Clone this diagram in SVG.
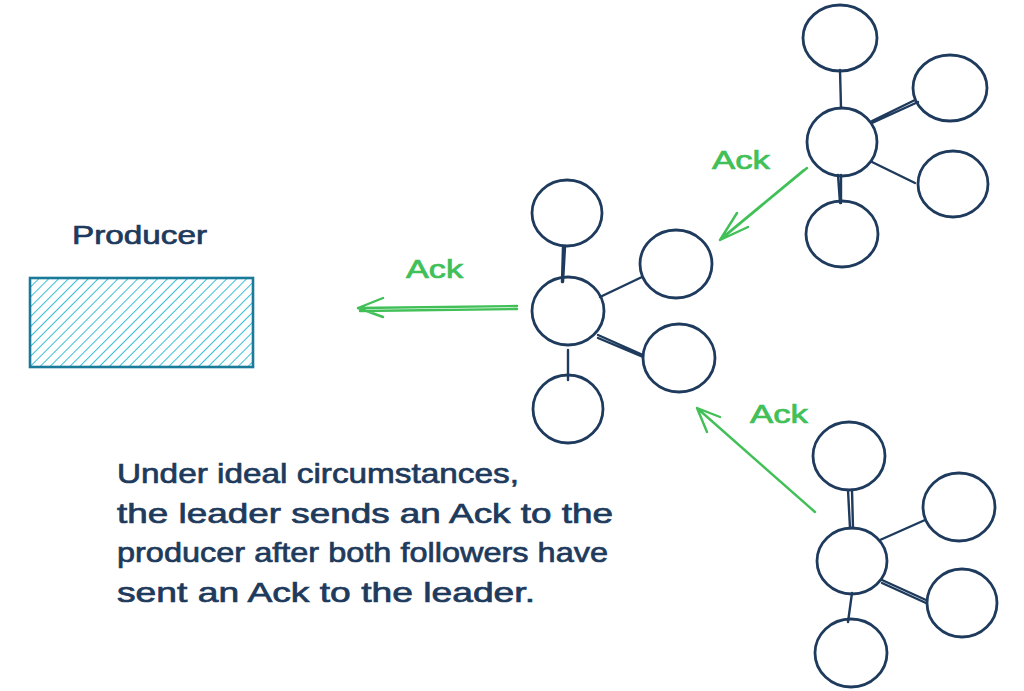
<svg xmlns="http://www.w3.org/2000/svg" width="1024" height="691" viewBox="0 0 1024 691">
<defs>
<pattern id="hatch" patternUnits="userSpaceOnUse" width="7" height="7" patternTransform="rotate(45)">
<line x1="0" y1="0" x2="0" y2="7" stroke="#22b8cf" stroke-width="1.8"/>
</pattern>
</defs>
<style>
.n{fill:none;stroke:#1e3a5c;stroke-width:2.8}
.e{fill:none;stroke:#1e3a5c;stroke-width:2.4;stroke-linecap:round}
.a{fill:none;stroke:#40c057;stroke-width:2.4;stroke-linecap:round;stroke-linejoin:round}
.t{font-family:"Liberation Sans",Arial,sans-serif;fill:#1e3a5c;stroke:#1e3a5c;stroke-width:0.7}
.g{font-family:"Liberation Sans",Arial,sans-serif;fill:#40c057;stroke:#40c057;stroke-width:0.7;font-size:26px}
</style>
<rect width="1024" height="691" fill="#ffffff"/>

<g id="producer">
<text class="t" x="72" y="244" font-size="26" textLength="135" lengthAdjust="spacingAndGlyphs">Producer</text>
<rect x="30" y="278" width="223" height="89" fill="url(#hatch)" stroke="#1a7a9a" stroke-width="2.6"/>
</g>

<g id="connectors">
<!-- leader cluster edges -->
<path class="e" d="M563 247 L562 282 M565 247 L563 282"/>
<path class="e" d="M600 297 L642 277"/>
<path class="e" d="M598 335 L643 355 M598 338 L643 357"/>
<path class="e" d="M568 350 L568 380"/>
<!-- top-right cluster edges -->
<path class="e" d="M840 70 L841 108"/>
<path class="e" d="M872 123 L918 102 M872 121 L915 100"/>
<path class="e" d="M872 162 L915 183"/>
<path class="e" d="M838 175 L840 203 M841 175 L841 203"/>
<!-- bottom-right cluster edges -->
<path class="e" d="M848 490 L850 528 M852 490 L853 528"/>
<path class="e" d="M880 540 L925 520"/>
<path class="e" d="M882 580 L926 600 M882 583 L926 603"/>
<path class="e" d="M852 593 L848 622"/>
<!-- Ack arrows -->
<path class="a" d="M517 306 L358 308 M517 309 L360 311 M383 298 L358 308 L383 317"/>
<path class="a" d="M807 168 L720 240 M804 170 L722 238 M748 227 L720 240 L737 213"/>
<path class="a" d="M815 512 L697 408 M720 417 L697 408 L707 432"/>
</g>

<g id="leader">
<ellipse class="n" cx="568" cy="311" rx="36" ry="34"/>
<ellipse class="n" cx="567" cy="213" rx="35" ry="33"/>
<ellipse class="n" cx="676" cy="264" rx="36" ry="34"/>
<ellipse class="n" cx="679" cy="358" rx="36" ry="34"/>
<ellipse class="n" cx="568" cy="409" rx="35" ry="34"/>
</g>

<g id="follower1">
<ellipse class="n" cx="842" cy="142" rx="35" ry="34"/>
<ellipse class="n" cx="840" cy="38" rx="37" ry="33"/>
<ellipse class="n" cx="950" cy="88" rx="37" ry="33"/>
<ellipse class="n" cx="953" cy="184" rx="35" ry="33"/>
<ellipse class="n" cx="842" cy="234" rx="36" ry="33"/>
</g>

<g id="follower2">
<ellipse class="n" cx="852" cy="561" rx="35" ry="33"/>
<ellipse class="n" cx="849" cy="456" rx="36" ry="34"/>
<ellipse class="n" cx="959" cy="507" rx="36" ry="34"/>
<ellipse class="n" cx="962" cy="603" rx="35" ry="34"/>
<ellipse class="n" cx="851" cy="653" rx="36" ry="34"/>
</g>

<g id="labels">
<text class="g" x="406" y="278" textLength="57" lengthAdjust="spacingAndGlyphs">Ack</text>
<text class="g" x="712" y="169" textLength="58" lengthAdjust="spacingAndGlyphs">Ack</text>
<text class="g" x="750" y="423" textLength="58" lengthAdjust="spacingAndGlyphs">Ack</text>
</g>

<g id="note">
<text class="t" x="117" y="483" font-size="28" textLength="402" lengthAdjust="spacingAndGlyphs">Under ideal circumstances,</text>
<text class="t" x="117" y="523" font-size="28" textLength="496" lengthAdjust="spacingAndGlyphs">the leader sends an Ack to the</text>
<text class="t" x="117" y="562" font-size="28" textLength="491" lengthAdjust="spacingAndGlyphs">producer after both followers have</text>
<text class="t" x="117" y="602" font-size="28" textLength="418" lengthAdjust="spacingAndGlyphs">sent an Ack to the leader.</text>
</g>
</svg>
